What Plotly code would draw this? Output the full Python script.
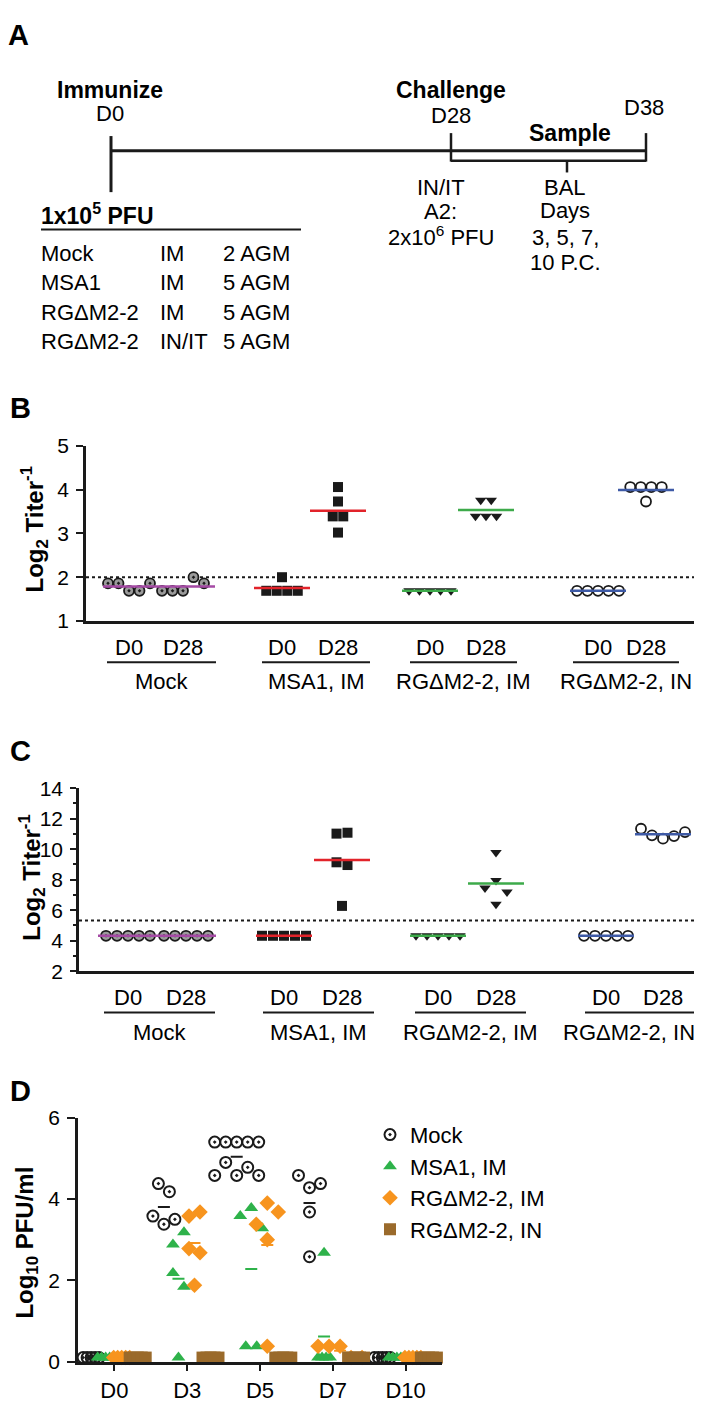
import numpy as np
import plotly.graph_objects as go

# ---------------- data ----------------
group_names = ['Mock', 'MSA1, IM', 'RGΔM2-2, IM', 'RGΔM2-2, IN']
time_labels = ['D0', 'D28']

# panel B : log2 titer^-1
b_mock_d0 = [1.86, 1.86, 1.69, 1.69, 1.86]
b_mock_d28 = [1.69, 1.69, 1.69, 2.0, 1.86]
b_msa1_d0 = [1.69, 1.69, 2.0, 1.69, 1.69]
b_msa1_d28 = [4.06, 3.73, 3.39, 3.39, 3.02]
b_rgim_d0 = [1.69, 1.69, 1.69, 1.69, 1.69]
b_rgim_d28 = [3.76, 3.76, 3.39, 3.39, 3.39]
b_rgin_d0 = [1.69, 1.69, 1.69, 1.69, 1.69]
b_rgin_d28 = [4.06, 4.06, 4.06, 4.06, 3.73]
b_cutoff = 2.0

# panel C : log2 titer^-1
c_mock_d0 = [4.32, 4.32, 4.32, 4.32, 4.32]
c_mock_d28 = [4.32, 4.32, 4.32, 4.32, 4.32]
c_msa1_d0 = [4.32, 4.32, 4.32, 4.32, 4.32]
c_msa1_d28 = [11.02, 11.08, 9.14, 8.96, 6.28]
c_rgim_d0 = [4.32, 4.32, 4.32, 4.32, 4.32]
c_rgim_d28 = [9.78, 7.45, 7.95, 7.19, 6.39]
c_rgin_d0 = [4.32, 4.32, 4.32, 4.32, 4.32]
c_rgin_d28 = [11.34, 10.91, 10.69, 10.86, 11.12]
c_cutoff = 5.32

# panel D : log10 PFU/ml in BAL
days = ['D0', 'D3', 'D5', 'D7', 'D10']
d_mock = [[0.1, 0.1, 0.1, 0.1, 0.1],
          [4.38, 4.18, 3.58, 3.38, 3.50],
          [5.4, 5.4, 5.4, 5.4, 5.4, 4.58, 4.9, 4.58, 4.78, 4.58],
          [4.58, 4.28, 4.38, 3.68, 2.58],
          [0.1, 0.1, 0.1, 0.1, 0.1]]
d_msa1 = [[0.1, 0.1, 0.1, 0.1, 0.1],
          [2.88, 3.18, 2.18, 1.84, 0.1],
          [3.58, 3.78, 3.28, 0.38, 0.38],
          [0.1, 0.1, 0.1, 0.1, 2.68],
          [0.1, 0.1, 0.1, 0.1, 0.1]]
d_rgim = [[0.1, 0.1, 0.1, 0.1, 0.1],
          [3.58, 3.68, 2.78, 2.68, 1.88],
          [3.38, 3.9, 3.68, 3.0, 0.38],
          [0.38, 0.38, 0.38, 0.1, 0.1],
          [0.1, 0.1, 0.1, 0.1, 0.1]]
d_rgin = [[0.1, 0.1, 0.1, 0.1, 0.1],
          [0.1, 0.1, 0.1, 0.1, 0.1],
          [0.1, 0.1, 0.1, 0.1, 0.1],
          [0.1, 0.1, 0.1, 0.1, 0.1],
          [0.1, 0.1, 0.1, 0.1, 0.1]]
d_lod = 0.1

# ---------------- layout / style ----------------
W, H = 702, 1403
FONT = 'Liberation Sans, Arial, sans-serif'
INK = '#1a1a1a'
mean_cols = ['#a54aa5', '#e2232a', '#3daa4a', '#3e5aa6']
d_cols = [INK, '#2eb24a', '#f7941e', '#9a6a2b']


def px(x):
    return x / W


def py(y):
    return 1 - y / H


def spread(vals, ppu, thresh, gap, lod=None, lod_gap=None):
    # simple column scatter: values that would overlap are laid out side by side
    v = np.asarray(vals, float)
    order = np.argsort(v, kind='stable')
    clusters, cur = [], [order[0]]
    for a, b in zip(order[:-1], order[1:]):
        if (v[b] - v[a]) * ppu < thresh:
            cur.append(b)
        else:
            clusters.append(cur)
            cur = [b]
    clusters.append(cur)
    off = np.zeros(len(v))
    for cl in clusters:
        cl = sorted(cl)
        g = lod_gap if (lod is not None and np.allclose(v[cl], lod)) else gap
        for i, idx in enumerate(cl):
            off[idx] = (i - (len(cl) - 1) / 2) * g
    return off


fig = go.Figure()


def txt(x, y, s, size=22, bold=False, xanchor='center', angle=0):
    fig.add_annotation(x=px(x), y=py(y), xref='paper', yref='paper',
                       text='<b>%s</b>' % s if bold else s, showarrow=False,
                       font=dict(size=size, family=FONT, color='black'),
                       xanchor=xanchor, yanchor='middle', textangle=angle)


def seg(x0, y0, x1, y1, w=2.5):
    fig.add_shape(type='line', xref='paper', yref='paper',
                  x0=px(x0), y0=py(y0), x1=px(x1), y1=py(y1),
                  line=dict(color=INK, width=w))


# ---------------- panel A (timeline) ----------------
txt(-2, 15, 'A', size=29, bold=True, xanchor='left')
seg(103, 118, 103, 175, 3)
seg(103, 133, 638, 133, 3)
seg(443, 115, 443, 144, 2.5)
seg(638, 115, 638, 144, 2.5)
seg(443, 143, 638, 143, 2.5)
seg(559, 143, 559, 155, 2.5)
txt(102, 71, 'Immunize', size=23, bold=True)
txt(102, 95, 'D0')
txt(443, 71, 'Challenge', size=23, bold=True)
txt(443, 97, 'D28')
txt(636, 89, 'D38')
txt(562, 115, 'Sample', size=23, bold=True)
for yy, s in zip([170, 195, 220], ['IN/IT', 'A2:', '2x10<sup>6</sup> PFU']):
    txt(433, yy, s)
for yy, s in zip([170, 194, 221, 247], ['BAL', 'Days', '3, 5, 7,', '10 P.C.']):
    txt(557, yy, s)
txt(31, 197, '1x10<sup>5</sup> PFU', size=23, bold=True, xanchor='left')
seg(33, 213, 293, 213, 2)
table = [['Mock', 'IM', '2 AGM'], ['MSA1', 'IM', '5 AGM'],
         ['RGΔM2-2', 'IM', '5 AGM'], ['RGΔM2-2', 'IN/IT', '5 AGM']]
for yy, row in zip([237, 267, 297, 327], table):
    for xx, s in zip([31, 150, 213], row):
        txt(xx, yy, s, xanchor='left')

# ---------------- panels B and C (titers) ----------------
syms = ['circle-dot', 'square', 'triangle-down', 'circle-open']
fills = ['#9b9b9b', INK, INK, INK]


def titer_panel(xa, ya, cols, data, ppu, gap, msize, line_l, line_r):
    for g in range(4):
        for k in range(2):
            vals = data[g][k]
            xs = cols[2 * g + k] + spread(vals, ppu, msize, gap)
            lw = 0 if syms[g] in ('square', 'triangle-down') else 1.8
            fig.add_trace(go.Scatter(
                x=xs, y=vals, mode='markers', xaxis=xa, yaxis=ya, showlegend=False,
                cliponaxis=False,
                marker=dict(symbol=syms[g], size=msize, color=fills[g],
                            line=dict(color=INK, width=lw))))
    for g in range(4):
        if g == 0:
            allv = data[0][0] + data[0][1]
            segs = [(cols[0] - line_l, cols[1] + line_r, np.mean(allv))]
        else:
            segs = [(cols[2 * g + k] - 28, cols[2 * g + k] + 28, np.mean(data[g][k])) for k in range(2)]
        for x0, x1, m in segs:
            fig.add_trace(go.Scatter(x=[x0, x1], y=[m, m], mode='lines', xaxis=xa, yaxis=ya,
                                     showlegend=False, cliponaxis=False,
                                     line=dict(color=mean_cols[g], width=2.5)))


b_data = [[b_mock_d0, b_mock_d28], [b_msa1_d0, b_msa1_d28],
          [b_rgim_d0, b_rgim_d28], [b_rgin_d0, b_rgin_d28]]
c_data = [[c_mock_d0, c_mock_d28], [c_msa1_d0, c_msa1_d28],
          [c_rgim_d0, c_rgim_d28], [c_rgin_d0, c_rgin_d28]]

# geometry (pixels)
B_X0, B_X1, B_Y0, B_Y1 = 78, 698, 433, 611
C_X0, C_X1, C_Y0, C_Y1 = 71, 702, 781, 967
b_cols = [121, 175, 274, 330, 422, 478, 590, 638]
c_cols = [120, 178, 276, 334, 430, 488, 598, 655]

# cutoff lines
fig.add_trace(go.Scatter(x=[B_X0, B_X1], y=[b_cutoff, b_cutoff], mode='lines', xaxis='x', yaxis='y',
                         showlegend=False, line=dict(color=INK, width=2, dash='dot')))
fig.add_trace(go.Scatter(x=[C_X0, C_X1 - 2], y=[c_cutoff, c_cutoff], mode='lines', xaxis='x2', yaxis='y2',
                         showlegend=False, line=dict(color=INK, width=2, dash='dot')))

titer_panel('x', 'y', b_cols, b_data, (B_Y1 - B_Y0) / 4, 10.5, 10, 26, 32)
titer_panel('x2', 'y2', c_cols, c_data, (C_Y1 - C_Y0) / 12, 11, 10, 30, 30)

txt(0, 394, 'B', size=29, bold=True, xanchor='left')
txt(0, 743, 'C', size=29, bold=True, xanchor='left')
txt(26, 518, 'Log<sub>2</sub> Titer<sup>-1</sup>', size=24, bold=True, angle=-90)
txt(24, 872, 'Log<sub>2</sub> Titer<sup>-1</sup>', size=24, bold=True, angle=-90)

b_under = [(99, 208), (254, 362), (402, 509), (565, 671)]
c_under = [(96, 207), (255, 366), (407, 518), (577, 689)]
for cols, under, yl in [(b_cols, b_under, 638), (c_cols, c_under, 994)]:
    for g in range(4):
        txt(cols[2 * g], yl, time_labels[0])
        txt(cols[2 * g + 1], yl, time_labels[1])
        x0, x1 = under[g]
        seg(x0, yl + 15, x1, yl + 15, 2)
        txt(min((x0 + x1) / 2, 621), yl + 35, group_names[g])

# ---------------- panel D (virus in BAL) ----------------
D_X0, D_X1, D_Y0, D_Y1 = 70, 434, 1116, 1364
day_px = (D_X1 - D_X0) / 5
d_ppu = (D_Y1 - D_Y0) / 6
d_offsets = [-0.32, -0.12, 0.1, 0.32]
d_syms = ['circle-open-dot', 'triangle-up', 'diamond', 'square']
d_sizes = [11, 12, 12, 12]
d_sets = [d_mock, d_msa1, d_rgim, d_rgin]

for g in range(4):
    mx, my = [], []
    for i in range(len(days)):
        c = i + d_offsets[g]
        m = np.mean(d_sets[g][i])
        mx += [c - 6 / day_px, c + 6 / day_px, None]
        my += [m, m, None]
    fig.add_trace(go.Scatter(x=mx, y=my, mode='lines', xaxis='x3', yaxis='y3', showlegend=False,
                             cliponaxis=False, line=dict(color=d_cols[g], width=2)))

for g in range(4):
    xs, ys = [], []
    for i in range(len(days)):
        vals = d_sets[g][i]
        off = spread(vals, d_ppu, 15, 11, lod=d_lod, lod_gap=4) / day_px
        xs += list(i + d_offsets[g] + off)
        ys += list(vals)
    fig.add_trace(go.Scatter(
        x=xs, y=ys, mode='markers', xaxis='x3', yaxis='y3', name=group_names[g],
        cliponaxis=False,
        marker=dict(symbol=d_syms[g], size=d_sizes[g], color=d_cols[g],
                    line=dict(color=d_cols[g], width=2 if g == 0 else 0))))

txt(0, 1089, 'D', size=29, bold=True, xanchor='left')
txt(19, 1243, 'Log<sub>10</sub> PFU/ml', size=24, bold=True, angle=-90)

# ---------------- axes ----------------
yax = dict(showline=True, linewidth=2.5, linecolor=INK, ticks='outside', tickwidth=2,
           tickcolor=INK, showgrid=False, zeroline=False, ticklabelstandoff=3,
           tickfont=dict(size=21, family=FONT, color='black'))
xax_flat = dict(showline=True, linewidth=2.5, linecolor=INK, ticks='', showticklabels=False,
                showgrid=False, zeroline=False)

fig.update_layout(
    width=W, height=H, autosize=False,
    margin=dict(l=0, r=0, t=0, b=0),
    paper_bgcolor='white', plot_bgcolor='white',
    font=dict(family=FONT, color='black'),
    xaxis=dict(xax_flat, domain=[px(B_X0), px(B_X1)], range=[B_X0, B_X1], anchor='y'),
    yaxis=dict(yax, domain=[py(B_Y1), py(B_Y0)], range=[1, 5], dtick=1, ticklen=7, anchor='x'),
    xaxis2=dict(xax_flat, domain=[px(C_X0), px(C_X1)], range=[C_X0, C_X1], anchor='y2'),
    yaxis2=dict(yax, domain=[py(C_Y1), py(C_Y0)], range=[2, 14], dtick=2, ticklen=6, anchor='x2',
                minor=dict(dtick=1, ticks='outside', ticklen=3, tickwidth=2, tickcolor=INK)),
    xaxis3=dict(domain=[px(D_X0), px(D_X1)], range=[-0.5, 4.5], anchor='y3',
                tickvals=list(range(len(days))), ticktext=days, ticks='outside', ticklen=7,
                tickwidth=2, tickcolor=INK, showline=True, linewidth=2.5, linecolor=INK,
                showgrid=False, zeroline=False, ticklabelstandoff=0,
                tickfont=dict(size=22, family=FONT, color='black')),
    yaxis3=dict(yax, domain=[py(D_Y1), py(D_Y0)], range=[0, 6], dtick=2, ticklen=8, anchor='x3'),
    showlegend=True,
    legend=dict(x=px(362), y=py(1112), xanchor='left', yanchor='top',
                bgcolor='rgba(0,0,0,0)', font=dict(size=22, family=FONT, color='black'),
                itemwidth=30, tracegroupgap=0),
)

fig.write_html('out.html')
